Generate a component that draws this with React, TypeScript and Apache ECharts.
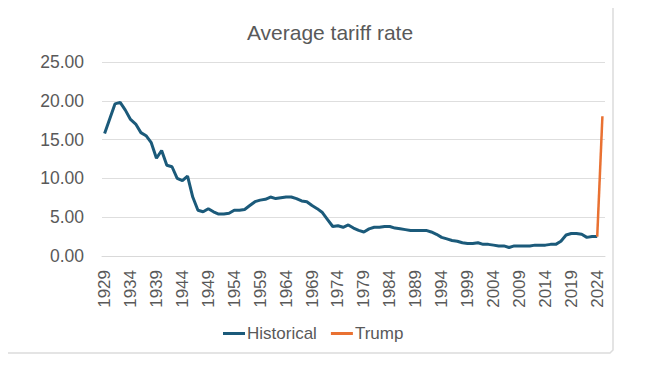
import React, { useEffect, useRef } from "react";
import * as echarts from "echarts";

const years: string[] = [];
for (let y = 1929; y <= 2025; y++) years.push(String(y));

// 1929 .. 2024 (2025 = null)
const historical: (number | null)[] = [
  15.8, 17.7, 19.6, 19.8, 18.8, 17.6, 17.0, 15.9, 15.5, 14.6, // 1929-1938
  12.6, 13.6, 11.7, 11.5, 10.0, 9.7, 10.3, 7.6, 5.9, 5.7,     // 1939-1948
  6.1, 5.7, 5.4, 5.4, 5.5, 5.9, 5.9, 6.0, 6.5, 7.0,           // 1949-1958
  7.2, 7.3, 7.6, 7.4, 7.5, 7.6, 7.6, 7.4, 7.1, 7.0,           // 1959-1968
  6.5, 6.1, 5.6, 4.7, 3.8, 3.9, 3.7, 4.0, 3.6, 3.3,           // 1969-1978
  3.1, 3.5, 3.7, 3.7, 3.8, 3.8, 3.6, 3.5, 3.4, 3.3,           // 1979-1988
  3.3, 3.3, 3.3, 3.1, 2.8, 2.4, 2.2, 2.0, 1.9, 1.7,           // 1989-1998
  1.6, 1.6, 1.7, 1.5, 1.5, 1.4, 1.3, 1.3, 1.1, 1.3,           // 1999-2008
  1.3, 1.3, 1.3, 1.4, 1.4, 1.4, 1.5, 1.5, 1.9, 2.7,           // 2009-2018
  2.9, 2.9, 2.8, 2.4, 2.5, 2.5, null                          // 2019-2025
];

const trumpValues: { year: string; value: number }[] = [
  { year: "2024", value: 2.5 },
  { year: "2025", value: 18.0 },
];

const yTicks = { min: 0, max: 25, interval: 5 };

const labelColor = "#595959";
const fontFamily = "'Liberation Sans', Arial, sans-serif";

export default function App() {
  const ref = useRef<HTMLDivElement>(null);
  useEffect(() => {
    if (!ref.current) return;
    const chart = echarts.init(ref.current, undefined, { renderer: "svg" });
    const trump = years.map((y) => {
      const f = trumpValues.find((t) => t.year === y);
      return f ? f.value : null;
    });
    chart.setOption({
      animation: false,
      backgroundColor: "#ffffff",
      title: {
        text: "Average tariff rate",
        left: 325,
        textAlign: "center",
        top: 17,
        textStyle: {
          color: labelColor,
          fontSize: 21,
          fontWeight: "normal",
          fontFamily,
        },
      },
      legend: {
        left: 218,
        top: 320,
        icon: "rect",
        itemWidth: 22,
        itemHeight: 3,
        itemGap: 14,
        textStyle: {
          color: labelColor,
          fontSize: 17,
          fontFamily,
          padding: [0, 0, 0, -3],
        },
        data: ["Historical", "Trump"],
      },
      grid: { left: 102, right: 45, top: 62, height: 194, containLabel: false },
      xAxis: {
        type: "category",
        data: years,
        boundaryGap: true,
        axisLine: { lineStyle: { color: "#d9d9d9", width: 1 } },
        axisTick: { show: false },
        axisLabel: {
          interval: 4,
          rotate: 90,
          margin: 14,
          color: labelColor,
          fontSize: 17,
          fontFamily,
        },
      },
      yAxis: {
        type: "value",
        min: yTicks.min,
        max: yTicks.max,
        interval: yTicks.interval,
        axisLine: { show: false },
        axisTick: { show: false },
        splitLine: { lineStyle: { color: "#dedede", width: 1 } },
        axisLabel: {
          margin: 18,
          color: labelColor,
          fontSize: 17.5,
          fontFamily,
          formatter: (v: number) => v.toFixed(2),
        },
      },
      series: [
        {
          name: "Historical",
          type: "line",
          data: historical,
          showSymbol: false,
          symbol: "none",
          lineStyle: { color: "#1b5a7a", width: 3 },
          itemStyle: { color: "#1b5a7a" },
          z: 3,
        },
        {
          name: "Trump",
          type: "line",
          data: trump,
          showSymbol: false,
          symbol: "none",
          lineStyle: { color: "#e97132", width: 2.5 },
          itemStyle: { color: "#e97132" },
          z: 4,
        },
      ],
      graphic: [
        {
          type: "polyline",
          shape: { points: [[0, 353], [610, 353], [613, 350], [613, 8]] },
          style: { stroke: "#dcdcdc", fill: null, lineWidth: 1.5 },
          silent: true,
        },
      ],
    });
    return () => chart.dispose();
  }, []);
  return <div ref={ref} style={{ width: 650, height: 377, margin: -8 }} />;
}
